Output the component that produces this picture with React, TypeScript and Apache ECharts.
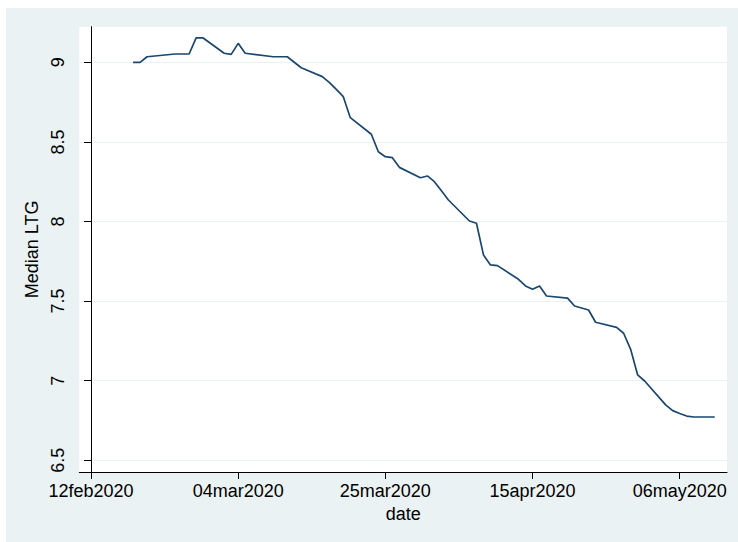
import React, { useEffect, useRef } from "react";
import * as echarts from "echarts";

const dates: string[] = [
  "2020-02-18", "2020-02-19", "2020-02-20", "2020-02-24", "2020-02-26",
  "2020-02-27", "2020-02-28", "2020-03-02", "2020-03-03", "2020-03-04",
  "2020-03-05", "2020-03-09", "2020-03-11", "2020-03-13", "2020-03-16",
  "2020-03-17", "2020-03-18", "2020-03-19", "2020-03-20", "2020-03-23",
  "2020-03-24", "2020-03-25", "2020-03-26", "2020-03-27", "2020-03-30",
  "2020-03-31", "2020-04-01", "2020-04-02", "2020-04-03", "2020-04-06",
  "2020-04-07", "2020-04-08", "2020-04-09", "2020-04-10", "2020-04-13",
  "2020-04-14", "2020-04-15", "2020-04-16", "2020-04-17", "2020-04-20",
  "2020-04-21", "2020-04-23", "2020-04-24", "2020-04-27", "2020-04-28",
  "2020-04-29", "2020-04-30", "2020-05-01", "2020-05-04", "2020-05-05",
  "2020-05-06", "2020-05-07", "2020-05-08", "2020-05-11",
];

const medianLTG: number[] = [
  9.0, 9.0, 9.035, 9.052, 9.052,
  9.153, 9.153, 9.057, 9.05, 9.119,
  9.057, 9.035, 9.035, 8.966, 8.91,
  8.874, 8.83, 8.784, 8.652, 8.548,
  8.438, 8.407, 8.401, 8.34, 8.275,
  8.286, 8.25, 8.193, 8.135, 8.003,
  7.989, 7.79, 7.727, 7.723, 7.637,
  7.595, 7.574, 7.595, 7.532, 7.519,
  7.469, 7.444, 7.367, 7.335, 7.298,
  7.197, 7.036, 6.998, 6.848, 6.812,
  6.794, 6.778, 6.772, 6.772,
];

const xTickDates: string[] = ["2020-02-12", "2020-03-04", "2020-03-25", "2020-04-15", "2020-05-06"];
const yTicks: number[] = [6.5, 7, 7.5, 8, 8.5, 9];

const ORIGIN = Date.UTC(2020, 1, 12);
const DAY = 86400000;
const MONTHS = ["jan", "feb", "mar", "apr", "may", "jun", "jul", "aug", "sep", "oct", "nov", "dec"];

function dayIndex(s: string): number {
  const [y, m, d] = s.split("-").map(Number);
  return Math.round((Date.UTC(y, m - 1, d) - ORIGIN) / DAY);
}

function fmtDay(v: number): string {
  const dt = new Date(ORIGIN + Math.round(v) * DAY);
  const dd = String(dt.getUTCDate()).padStart(2, "0");
  return dd + MONTHS[dt.getUTCMonth()] + dt.getUTCFullYear();
}

const FONT = "'Liberation Sans', Arial, Helvetica, sans-serif";

export default function App() {
  const ref = useRef<HTMLDivElement>(null);
  useEffect(() => {
    if (!ref.current) return;
    const chart = echarts.init(ref.current, undefined, { renderer: "svg" });
    const data = dates.map((d, i) => [dayIndex(d), medianLTG[i]]);
    const xTicks = xTickDates.map(dayIndex);
    chart.setOption({
      animation: false,
      backgroundColor: "#eaf2f3",
      textStyle: { fontFamily: FONT },
      grid: {
        left: 73.3,
        top: 18.7,
        right: 11,
        bottom: 70,
        show: true,
        backgroundColor: "#ffffff",
        borderWidth: 0,
      },
      xAxis: {
        type: "value",
        min: -1.67,
        max: 90.75,
        name: "date",
        nameLocation: "middle",
        nameGap: 31,
        nameTextStyle: { color: "#000", fontSize: 18, fontFamily: FONT },
        axisLine: { show: true, lineStyle: { color: "#000", width: 1 } },
        axisTick: { show: true, length: 7, lineStyle: { color: "#000" }, customValues: xTicks },
        axisLabel: {
          color: "#000",
          fontSize: 18,
          fontFamily: FONT,
          margin: 10,
          customValues: xTicks,
          formatter: (v: number) => fmtDay(v),
        },
        splitLine: { show: false },
      },
      yAxis: {
        type: "value",
        min: 6.4265,
        max: 9.2236,
        name: "Median LTG",
        nameLocation: "middle",
        nameGap: 27,
        nameTextStyle: { color: "#000", fontSize: 18, fontFamily: FONT },
        axisLine: { show: true, lineStyle: { color: "#000", width: 1 } },
        axisTick: { show: true, length: 7, lineStyle: { color: "#000" }, customValues: yTicks },
        axisLabel: {
          color: "#000",
          fontSize: 18,
          fontFamily: FONT,
          rotate: 90,
          margin: 12,
          customValues: yTicks,
          formatter: (v: number) => String(v),
        },
        splitLine: { show: true, lineStyle: { color: "#eaf2f3", width: 1.2 } },
      },
      series: [
        {
          type: "line",
          data,
          showSymbol: false,
          symbol: "none",
          lineStyle: { color: "#1a476f", width: 1.7 },
          itemStyle: { color: "#1a476f" },
        },
      ],
    });
    return () => chart.dispose();
  }, []);
  return (
    <div
      ref={ref}
      style={{ position: "absolute", left: 6, top: 8, width: 732, height: 534 }}
    />
  );
}
